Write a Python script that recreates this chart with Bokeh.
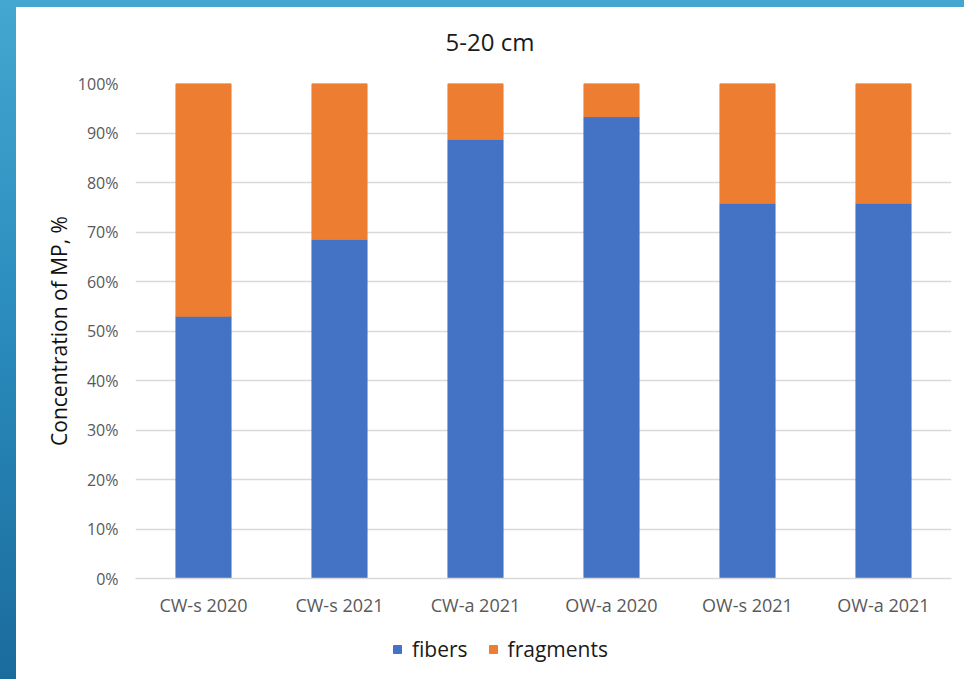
from bokeh.plotting import figure
from bokeh.models import FactorRange, Legend, LegendItem, NumeralTickFormatter, Div
from bokeh.layouts import column
from bokeh.embed import file_html
from bokeh.resources import INLINE

# Sample sites / years and share of each microplastic type (fraction of total)
sites = ["CW-s 2020", "CW-s 2021", "CW-a 2021", "OW-a 2020", "OW-s 2021", "OW-a 2021"]
fibers = [0.53, 0.685, 0.887, 0.933, 0.758, 0.758]
fragments = [round(1 - f, 3) for f in fibers]
series = ["fibers", "fragments"]
title_text = "5-20 cm"

FONT = "Open Sans"
BLUE = "#4472C4"
ORANGE = "#ED7D31"
GRID = "#D9D9D9"
TICK = "#595959"

data = dict(site=sites, fibers=fibers, fragments=fragments)

# Chart title, centred across the whole white panel
heading = Div(
    text=title_text,
    width=948,
    height=60,
    margin=0,
    styles={
        "font-family": FONT,
        "font-size": "24px",
        "line-height": "30px",
        "padding-top": "20px",
        "text-align": "center",
        "color": "#1a1a1a",
        "width": "948px",
        "box-sizing": "border-box",
    },
)

p = figure(
    x_range=FactorRange(*sites),
    y_range=(0, 1),
    width=948,
    height=555,
    output_backend="svg",
    toolbar_location=None,
    min_border_left=119,
    min_border_right=13,
    min_border_top=16,
    min_border_bottom=44,
    background_fill_color="white",
    border_fill_color="white",
)
p.outline_line_color = None

p.vbar_stack(
    series,
    x="site",
    width=0.405,
    color=[BLUE, ORANGE],
    line_color=[BLUE, ORANGE],
    source=data,
)

# Axes
p.yaxis.ticker = [i / 10 for i in range(11)]
p.yaxis.formatter = NumeralTickFormatter(format="0%")
p.yaxis.axis_line_color = None
p.yaxis.major_tick_line_color = None
p.yaxis.minor_tick_line_color = None
p.yaxis.major_label_text_font = FONT
p.yaxis.major_label_text_font_size = "16px"
p.yaxis.major_label_text_color = TICK
p.yaxis.major_label_standoff = 11
p.yaxis.axis_label = "Concentration of MP, %"
p.yaxis.axis_label_text_font = FONT
p.yaxis.axis_label_text_font_size = "21px"
p.yaxis.axis_label_text_font_style = "normal"
p.yaxis.axis_label_text_color = "#111111"
p.yaxis.axis_label_standoff = 2

p.xaxis.axis_line_color = GRID
p.xaxis.axis_line_width = 1.5
p.xaxis.major_tick_line_color = None
p.xaxis.minor_tick_line_color = None
p.xaxis.major_label_text_font = FONT
p.xaxis.major_label_text_font_size = "18px"
p.xaxis.major_label_text_color = TICK
p.xaxis.major_label_standoff = 8

p.xgrid.grid_line_color = None
p.ygrid.grid_line_color = GRID
p.ygrid.grid_line_width = 1.5

# Legend strip under the chart; its hidden stacks only supply the swatches
leg = figure(
    x_range=p.x_range,
    y_range=p.y_range,
    width=948,
    height=57,
    output_backend="svg",
    toolbar_location=None,
    min_border=0,
    background_fill_color="white",
    border_fill_color="white",
)
leg.outline_line_color = None
leg.axis.visible = False
leg.grid.visible = False
swatches = leg.vbar_stack(
    series,
    x="site",
    width=0.405,
    color=[BLUE, ORANGE],
    line_color=[BLUE, ORANGE],
    source=data,
)
for r in swatches:
    r.visible = False

legend = Legend(
    items=[LegendItem(label=s, renderers=[r]) for s, r in zip(series, swatches)],
    orientation="horizontal",
    location=(257, 16),
    label_text_font=FONT,
    label_text_font_size="21px",
    label_text_color="#1a1a1a",
    glyph_width=10,
    glyph_height=10,
    label_standoff=10,
    spacing=20,
    padding=0,
    margin=0,
    border_line_color=None,
    background_fill_alpha=0,
    inactive_fill_alpha=0,
    click_policy="none",
)
leg.add_layout(legend, "center")

chart = column(
    heading,
    p,
    leg,
    spacing=0,
    margin=(7, 0, 0, 16),
    styles={"background": "white"},
)

page = column(
    chart,
    width=964,
    height=679,
    styles={
        "background": "linear-gradient(180deg, #43a7d0 0%, #2b8dbe 45%, #1a6c9d 100%)",
    },
)

open("out.html", "w").write(file_html(page, INLINE))
